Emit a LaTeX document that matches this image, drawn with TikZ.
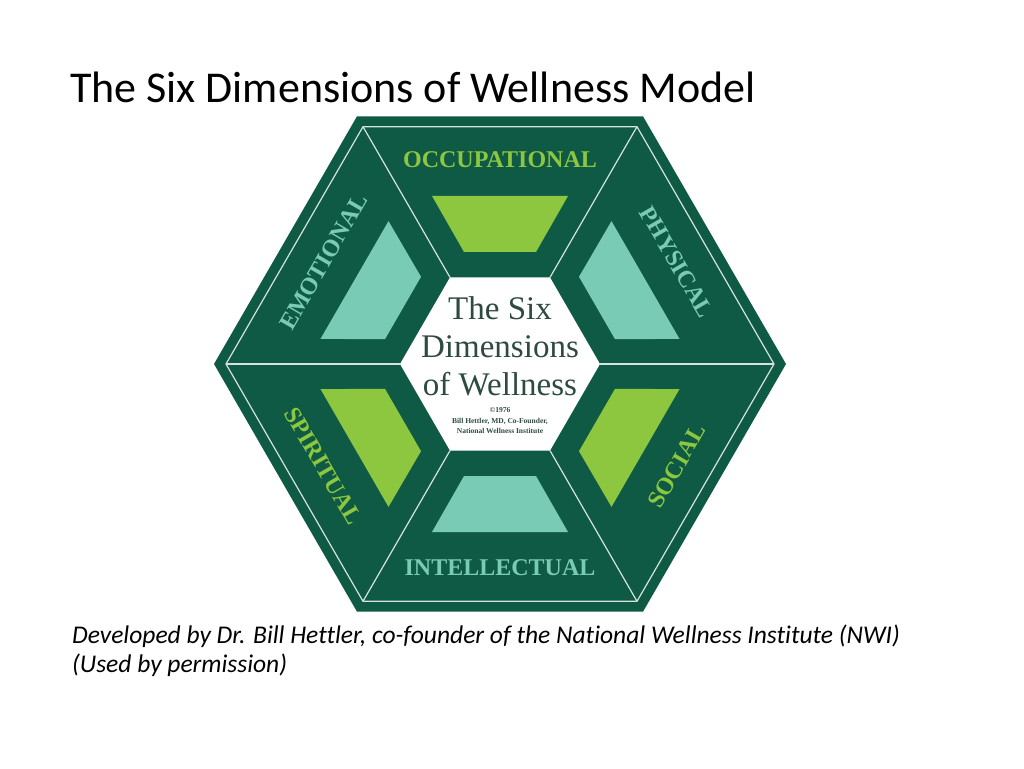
\documentclass[tikz,border=0pt]{standalone}
\usepackage{fontspec}
\setmainfont{Liberation Serif}
\newfontfamily\slidefont[Ligatures = NoCommon]{Carlito}
\definecolor{hexgreen}{HTML}{0F5A45}
\definecolor{leafgreen}{HTML}{8DC63F}
\definecolor{seafoam}{HTML}{7ACBB5}
\definecolor{inkgreen}{HTML}{2E4A41}
\definecolor{rimline}{HTML}{D5E3DC}
\tikzset{
	dimlabel/.style = {font = \fontsize{24}{24}\selectfont\bfseries, inner sep = 0pt},
	rim/.style = {draw = rimline, line width = 1.2pt},
}
\begin{document}
\begin{tikzpicture}[x = 1pt, y = 1pt]
		\useasboundingbox (-500, -404) rectangle (524, 364);
		% hexagon body, rim and spokes
		\fill[hexgreen] (0:286) \foreach \a in {60, 120, ..., 300}{ -- (\a:286)} -- cycle;
		\draw[rim] (0:274) \foreach \a in {60, 120, ..., 300}{ -- (\a:274)} -- cycle;
		\foreach \a in {0, 60, ..., 300}{
			\draw[rim] (\a:100) -- (\a:274);}
		\fill[white] (0:100) \foreach \a in {60, 120, ..., 300}{ -- (\a:100)} -- cycle;
		% panels
		\foreach \a/\tone in {90/leafgreen, 30/seafoam, -30/leafgreen, -90/seafoam, -150/leafgreen, 150/seafoam}{
			\fill[fill = \tone, rotate = \a - 90] (-68, 168) -- (68, 168) -- (36, 112) -- (-36, 112) -- cycle;}
		% dimension names
		\foreach \name/\a/\r/\tone in {OCCUPATIONAL/90/0/leafgreen, PHYSICAL/30/-60/seafoam, SOCIAL/-30/60/leafgreen, INTELLECTUAL/-90/0/seafoam, SPIRITUAL/-150/-60/leafgreen, EMOTIONAL/150/60/seafoam}{
			\node[dimlabel, text = \tone, rotate = \r] (\name) at (\a:204) {\name};}
		\node[align = center, text = inkgreen, font = \fontsize{33}{38}\selectfont, inner sep = 0pt] (heading) at (0, 18) {The Six\\Dimensions\\of Wellness};
		\node[align = center, text = inkgreen, font = \fontsize{7.5}{10.5}\selectfont\bfseries, inner sep = 0pt] (credit) at (0, -57) {©1976\\Bill Hettler, MD, Co-Founder,\\National Wellness Institute};
		% slide texts
		\node[anchor = base west, font = \slidefont\fontsize{44}{44}\selectfont, inner sep = 0pt] (title) at (-430, 261) {The Six Dimensions of Wellness Model};
		\node[anchor = base west, font = \slidefont\itshape\fontsize{25.5}{30}\selectfont, inner sep = 0pt] (source) at (-428, -279) {Developed by Dr. Bill Hettler, co-founder of the National Wellness Institute (NWI)};
		\node[anchor = base west, font = \slidefont\itshape\fontsize{25.5}{30}\selectfont, inner sep = 0pt] (permission) at ([yshift = -29pt]source.base west) {(Used by permission)};
\end{tikzpicture}
\end{document}
